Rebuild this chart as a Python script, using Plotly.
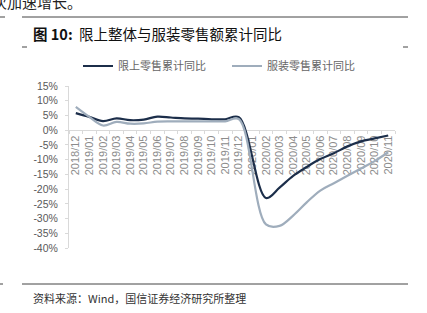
import plotly.graph_objects as go

categories = ["2018/12", "2019/01", "2019/02", "2019/03", "2019/04", "2019/05", "2019/06",
              "2019/07", "2019/08", "2019/09", "2019/10", "2019/11", "2019/12",
              "2020/01", "2020/02", "2020/03", "2020/04", "2020/05", "2020/06",
              "2020/07", "2020/08", "2020/09", "2020/10", "2020/11"]
retail_above_quota = [5.8, 4.5, 3.1, 4.0, 3.4, 3.6, 4.6, 4.3, 4.0, 3.9, 3.7, 3.7, 4.4,
                      None, -23.0, -19.5, -15.5, -12.5, -9.8, -7.8, -5.5, -3.8, -2.8, -1.8]
apparel_retail = [7.9, 4.5, 1.6, 2.8, 2.2, 2.3, 2.9, 3.0, 3.0, 3.0, 3.0, 3.0, 3.8,
                  None, -32.0, -32.5, -29.0, -24.5, -20.5, -18.0, -15.5, -13.0, -10.5, -7.5]
series_names = ["限上零售累计同比", "服装零售累计同比"]
y_tick_values = [15, 10, 5, 0, -5, -10, -15, -20, -25, -30, -35, -40]
y_tick_labels = ["15%", "10%", "5%", "0%", "-5%", "-10%", "-15%", "-20%", "-25%", "-30%", "-35%", "-40%"]

W, H = 427, 313
ML, MR, MT, MB = 69, 32, 86, 65
PW, PH = W - ML - MR, H - MT - MB


def px(x):
    return (x - ML) / PW


def py(y):
    return (H - MB - y) / PH


fig = go.Figure()
fig.add_trace(go.Scatter(x=categories, y=retail_above_quota, name=series_names[0], mode="lines",
                         line=dict(color="#1c2e4a", width=2.2, shape="spline"), connectgaps=True))
fig.add_trace(go.Scatter(x=categories, y=apparel_retail, name=series_names[1], mode="lines",
                         line=dict(color="#9fadbc", width=2.2, shape="spline"), connectgaps=True))

y_min, y_max = -40, 15
fig.update_layout(
    width=W, height=H,
    margin=dict(l=ML, r=MR, t=MT, b=MB, pad=0),
    paper_bgcolor="white", plot_bgcolor="white",
    font=dict(family="Liberation Sans, Arial", color="#595959"),
    showlegend=True,
    legend=dict(orientation="h", x=px(78), xanchor="left", y=py(66), yanchor="middle",
                font=dict(size=11, color="#666666", family="Noto Sans CJK SC"),
                entrywidth=104, entrywidthmode="pixels", bgcolor="rgba(0,0,0,0)",
                tracegroupgap=0, itemwidth=30),
    xaxis=dict(type="category", range=[-0.5, 23.5], anchor="free",
               position=(0 - y_min) / (y_max - y_min),
               showline=True, linecolor="#d9d9d9", linewidth=1,
               ticks="outside", tickson="boundaries", ticklen=3, tickcolor="#d9d9d9",
               tickangle=-90, tickfont=dict(size=11, color="#8c8c8c"),
               showgrid=False, zeroline=False, layer="below traces"),
    yaxis=dict(range=[y_min, y_max], tickvals=y_tick_values, ticktext=y_tick_labels,
               showline=True, linecolor="#d9d9d9", linewidth=1,
               ticks="outside", ticklen=3, tickcolor="#d9d9d9",
               tickfont=dict(size=10.5, color="#595959"), ticklabelstandoff=5,
               showgrid=False, zeroline=False),
)

shapes = [
    dict(x0=px(22), x1=px(408), y0=py(17), y1=py(17)),
    dict(x0=px(0), x1=px(5), y0=py(17), y1=py(17)),
    dict(x0=px(22), x1=px(27), y0=py(47), y1=py(47)),
    dict(x0=px(403), x1=px(408), y0=py(47), y1=py(47)),
    dict(x0=px(22), x1=px(408), y0=py(284), y1=py(284)),
    dict(x0=px(0), x1=px(3), y0=py(284), y1=py(284)),
]
for s in shapes:
    fig.add_shape(type="line", xref="paper", yref="paper", line=dict(color="#444444", width=1), **s)

fig.add_annotation(text="次加速增长。", xref="paper", yref="paper", x=px(-10), y=py(2),
                   xanchor="left", yanchor="middle", showarrow=False,
                   font=dict(size=15, color="#222222", family="Noto Sans CJK SC"))
fig.add_annotation(text="<b>图 10:</b>  限上整体与服装零售额累计同比", xref="paper", yref="paper",
                   x=px(31), y=py(33), xanchor="left", yanchor="middle", showarrow=False,
                   font=dict(size=14.5, color="#111111", family="Noto Sans CJK SC"))
fig.add_annotation(text="资料来源：Wind，国信证券经济研究所整理", xref="paper", yref="paper",
                   x=px(31), y=py(298), xanchor="left", yanchor="middle", showarrow=False,
                   font=dict(size=11, color="#333333", family="Noto Sans CJK SC"))

fig.write_html("out.html")
